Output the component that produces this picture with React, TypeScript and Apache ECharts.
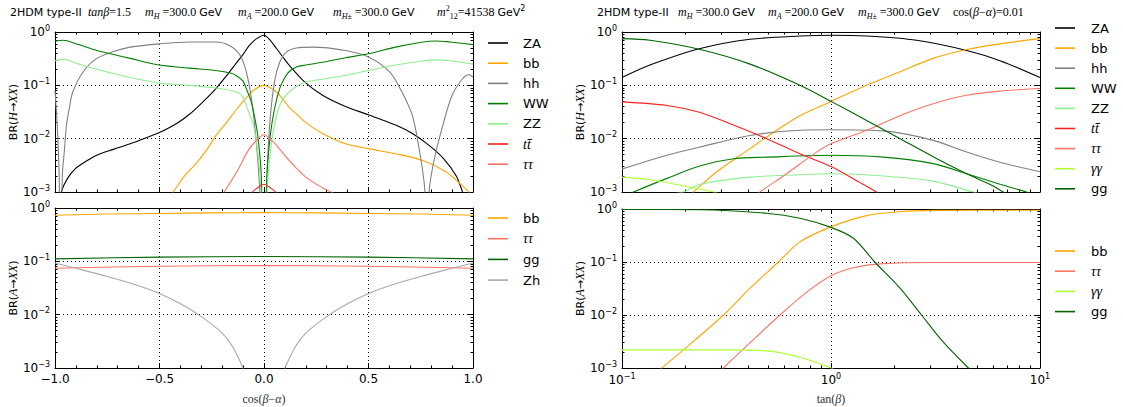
import React, { useEffect, useRef } from "react";
import * as echarts from "echarts";

type P = [number, number];

// ---------- Panel 1: BR(H -> XX) vs cos(beta-alpha) ----------
const h1ZA: P[] = [[-1.0, 0.0003], [-0.97, 0.001], [-0.94, 0.0018], [-0.9, 0.0028], [-0.85, 0.0038], [-0.8, 0.0049], [-0.72, 0.0063], [-0.64, 0.008], [-0.56, 0.0105], [-0.5, 0.013], [-0.42, 0.019], [-0.355, 0.029], [-0.29, 0.05], [-0.23, 0.087], [-0.18, 0.15], [-0.13, 0.27], [-0.1, 0.38], [-0.07, 0.56], [-0.035, 0.75], [0, 0.87], [0.03, 0.7], [0.06, 0.49], [0.09, 0.34], [0.12, 0.24], [0.19, 0.12], [0.28, 0.065], [0.39, 0.04], [0.5, 0.028], [0.63, 0.018], [0.71, 0.0125], [0.79, 0.0075], [0.86, 0.0042], [0.92, 0.002], [0.95, 0.001], [1.0, 0.0003]];
const h1bb: P[] = [[-0.5, 0.0005], [-0.435, 0.001], [-0.38, 0.002], [-0.32, 0.0036], [-0.27, 0.0065], [-0.23, 0.0115], [-0.18, 0.02], [-0.13, 0.036], [-0.09, 0.055], [-0.05, 0.081], [0, 0.1], [0.03, 0.09], [0.06, 0.075], [0.09, 0.055], [0.12, 0.039], [0.16, 0.028], [0.2, 0.02], [0.28, 0.0125], [0.39, 0.008], [0.5, 0.0065], [0.63, 0.0052], [0.76, 0.0039], [0.87, 0.0024], [0.95, 0.0013], [0.98, 0.001], [1.0, 0.0008]];
const h1hh: P[] = [[-1, 0.08], [-0.99, 0.02], [-0.98, 0.002], [-0.975, 0.00001], [-0.965, 0.002], [-0.955, 0.006], [-0.945, 0.018], [-0.93, 0.04], [-0.915, 0.075], [-0.865, 0.18], [-0.8, 0.32], [-0.72, 0.43], [-0.64, 0.52], [-0.5, 0.6], [-0.355, 0.65], [-0.23, 0.65], [-0.165, 0.56], [-0.115, 0.37], [-0.085, 0.18], [-0.06, 0.056], [-0.037, 0.0087], [-0.02, 0.001], [-0.005, 0.00001], [0.011, 0.001], [0.027, 0.018], [0.05, 0.115], [0.075, 0.27], [0.107, 0.42], [0.155, 0.5], [0.234, 0.52], [0.39, 0.45], [0.5, 0.34], [0.6, 0.18], [0.66, 0.075], [0.71, 0.027], [0.745, 0.0056], [0.77, 0.001], [0.78, 0.00001], [0.79, 0.001], [0.815, 0.0042], [0.856, 0.018], [0.9, 0.065], [0.95, 0.133], [0.98, 0.158], [1, 0.143]];
const h1WW: P[] = [[-1, 0.67], [-0.96, 0.7], [-0.9, 0.6], [-0.8, 0.45], [-0.72, 0.38], [-0.64, 0.32], [-0.5, 0.24], [-0.355, 0.21], [-0.23, 0.19], [-0.16, 0.17], [-0.13, 0.15], [-0.1, 0.12], [-0.085, 0.087], [-0.065, 0.055], [-0.05, 0.032], [-0.03, 0.0115], [-0.013, 0.002], [0, 0.00001], [0.014, 0.002], [0.03, 0.0115], [0.05, 0.036], [0.075, 0.087], [0.1, 0.14], [0.12, 0.18], [0.155, 0.22], [0.2, 0.24], [0.28, 0.27], [0.39, 0.33], [0.5, 0.39], [0.63, 0.52], [0.76, 0.65], [0.82, 0.68], [0.89, 0.65], [1, 0.58]];
const h1ZZ: P[] = [[-1, 0.29], [-0.96, 0.31], [-0.9, 0.26], [-0.8, 0.2], [-0.64, 0.14], [-0.5, 0.11], [-0.355, 0.1], [-0.23, 0.089], [-0.13, 0.075], [-0.1, 0.06], [-0.085, 0.042], [-0.065, 0.026], [-0.05, 0.018], [-0.03, 0.0056], [-0.015, 0.001], [0, 0.000005], [0.015, 0.001], [0.03, 0.0056], [0.05, 0.018], [0.075, 0.042], [0.12, 0.075], [0.2, 0.115], [0.28, 0.13], [0.39, 0.154], [0.5, 0.19], [0.63, 0.24], [0.76, 0.29], [0.82, 0.3], [0.89, 0.29], [1, 0.25]];
const h1tt: P[] = [[-0.08, 0.0006], [-0.055, 0.001], [-0.03, 0.0012], [0, 0.0014], [0.03, 0.0012], [0.055, 0.001], [0.08, 0.0006]];
const h1tautau: P[] = [[-0.22, 0.0006], [-0.19, 0.001], [-0.13, 0.0024], [-0.07, 0.0065], [-0.02, 0.0107], [0, 0.012], [0.03, 0.0098], [0.06, 0.0075], [0.12, 0.0039], [0.2, 0.0019], [0.28, 0.0012], [0.32, 0.001], [0.36, 0.0008]];

// ---------- Panel 2: BR(H -> XX) vs tan(beta) ----------
const h2ZA: P[] = [[0.1, 0.14], [0.136, 0.24], [0.237, 0.49], [0.41, 0.73], [0.71, 0.84], [1, 0.87], [1.48, 0.84], [2.57, 0.7], [4.46, 0.45], [6.43, 0.29], [10, 0.14]];
const h2bb: P[] = [[0.2, 0.0007], [0.22, 0.001], [0.284, 0.0024], [0.41, 0.0065], [0.55, 0.0144], [0.71, 0.027], [1, 0.05], [1.48, 0.1], [2.14, 0.18], [3.08, 0.32], [4.46, 0.47], [6.43, 0.6], [10, 0.75]];
const h2hh: P[] = [[0.1, 0.0027], [0.164, 0.0049], [0.237, 0.007], [0.41, 0.0115], [0.71, 0.0144], [1, 0.0147], [1.78, 0.014], [3.08, 0.0093], [4.46, 0.0056], [6.43, 0.0036], [10, 0.0024]];
const h2WW: P[] = [[0.1, 0.0008], [0.1135, 0.001], [0.164, 0.0018], [0.237, 0.0031], [0.341, 0.0042], [0.492, 0.0045], [1, 0.0049], [1.78, 0.0045], [3.08, 0.0034], [4.46, 0.0022], [6.43, 0.0014], [8.61, 0.001], [10, 0.0008]];
const h2ZZ: P[] = [[0.164, 0.0009], [0.197, 0.001], [0.237, 0.0014], [0.41, 0.0019], [0.71, 0.0021], [1, 0.0022], [1.78, 0.002], [3.08, 0.0016], [4.79, 0.001], [6, 0.0008]];
const h2tt: P[] = [[0.1, 0.049], [0.164, 0.042], [0.237, 0.031], [0.341, 0.018], [0.492, 0.01], [0.71, 0.0052], [1, 0.003], [1.376, 0.0015], [1.65, 0.001], [1.8, 0.0008]];
const h2tautau: P[] = [[0.42, 0.0007], [0.458, 0.001], [0.592, 0.002], [0.854, 0.0056], [1, 0.008], [1.48, 0.0144], [2.14, 0.027], [3.08, 0.045], [4.46, 0.065], [6.43, 0.078], [10, 0.087]];
const h2gamgam: P[] = [[0.1, 0.0019], [0.136, 0.0017], [0.197, 0.0013], [0.274, 0.001], [0.32, 0.0008]];
const h2gg: P[] = [[0.1, 0.75], [0.136, 0.7], [0.237, 0.47], [0.41, 0.25], [0.71, 0.1], [1, 0.05], [1.48, 0.022], [2.14, 0.01], [3.08, 0.0046], [4.46, 0.0022], [5.97, 0.0013], [6.67, 0.001], [8, 0.0007]];

// ---------- Panel 3: BR(A -> XX) vs cos(beta-alpha) ----------
const a1bb: P[] = [[-1, 0.73], [-0.75, 0.77], [-0.5, 0.79], [-0.25, 0.81], [0, 0.82], [0.25, 0.81], [0.5, 0.79], [0.75, 0.77], [1, 0.73]];
const a1tautau: P[] = [[-1, 0.074], [-0.5, 0.081], [0, 0.083], [0.5, 0.081], [1, 0.074]];
const a1gg: P[] = [[-1, 0.111], [-0.5, 0.12], [0, 0.123], [0.5, 0.12], [1, 0.111]];
const a1Zh: P[] = [[-1, 0.093], [-0.9, 0.074], [-0.75, 0.052], [-0.6, 0.035], [-0.5, 0.025], [-0.4, 0.016], [-0.3, 0.0092], [-0.2, 0.0045], [-0.15, 0.0025], [-0.1, 0.001], [-0.07, 0.0005], [-0.04, 0.00016], [0, 0.000001], [0.04, 0.00016], [0.07, 0.0005], [0.1, 0.001], [0.15, 0.0025], [0.2, 0.0045], [0.3, 0.0092], [0.4, 0.016], [0.5, 0.025], [0.6, 0.035], [0.75, 0.052], [0.9, 0.074], [1, 0.093]];

// ---------- Panel 4: BR(A -> XX) vs tan(beta) ----------
const a2bb: P[] = [[0.13, 0.0005], [0.155, 0.001], [0.197, 0.0022], [0.306, 0.01], [0.41, 0.032], [0.56, 0.1], [0.71, 0.24], [1, 0.46], [1.48, 0.75], [2.14, 0.89], [3.08, 0.94], [10, 0.95]];
const a2tautau: P[] = [[0.26, 0.0005], [0.306, 0.001], [0.41, 0.003], [0.57, 0.01], [0.765, 0.027], [1, 0.055], [1.28, 0.078], [1.78, 0.093], [3.08, 0.098], [10, 0.098]];
const a2gamgam: P[] = [[0.1, 0.0022], [0.3, 0.0022], [0.492, 0.0021], [0.71, 0.0016], [1, 0.001], [1.1, 0.0008]];
const a2gg: P[] = [[0.1, 0.98], [0.237, 0.97], [0.492, 0.83], [0.71, 0.67], [1, 0.45], [1.28, 0.28], [1.62, 0.1], [2.14, 0.032], [2.71, 0.01], [3.44, 0.0031], [4.54, 0.001], [5.2, 0.0006]];

const COL: Record<string, string> = {
  ZA: "#000000", bb: "#FFA500", hh: "#808080", WW: "#008000", ZZ: "#90EE90",
  tt: "#FF2020", tautau: "#FA7565", gamgam: "#ADFF2F", gg: "#006400", Zh: "#A9A9A9",
};
const LABEL: Record<string, string> = {
  ZA: "{s|ZA}", bb: "{s|bb}", hh: "{s|hh}", WW: "{s|WW}", ZZ: "{s|ZZ}",
  tt: "{m|tt\u0304}", tautau: "{m|\u03c4\u03c4}", gamgam: "{m|\u03b3\u03b3}", gg: "{s|gg}", Zh: "{s|Zh}",
};

type Panel = { grid: number; items: [string, P[]][]; leg: { lx: number; tx: number; y0: number; dy: number } };
const panels: Panel[] = [
  { grid: 0, items: [["ZA", h1ZA], ["bb", h1bb], ["hh", h1hh], ["WW", h1WW], ["ZZ", h1ZZ], ["tt", h1tt], ["tautau", h1tautau]], leg: { lx: 488, tx: 523, y0: 43, dy: 20.2 } },
  { grid: 1, items: [["ZA", h2ZA], ["bb", h2bb], ["hh", h2hh], ["WW", h2WW], ["ZZ", h2ZZ], ["tt", h2tt], ["tautau", h2tautau], ["gamgam", h2gamgam], ["gg", h2gg]], leg: { lx: 1055, tx: 1091, y0: 28, dy: 20.1 } },
  { grid: 2, items: [["bb", a1bb], ["tautau", a1tautau], ["gg", a1gg], ["Zh", a1Zh]], leg: { lx: 488, tx: 523, y0: 218, dy: 20.7 } },
  { grid: 3, items: [["bb", a2bb], ["tautau", a2tautau], ["gamgam", a2gamgam], ["gg", a2gg]], leg: { lx: 1055, tx: 1091, y0: 251, dy: 20.2 } },
];

const SANS = "DejaVu Sans";
const SERIF = "Liberation Serif";

const richG = {
  s: { fontFamily: SANS, fontSize: 11, fill: "#000", lineHeight: 16 },
  r: { fontFamily: SERIF, fontSize: 12, fill: "#000", lineHeight: 16 },
  i: { fontFamily: SERIF, fontSize: 12, fontStyle: "italic", fill: "#000", lineHeight: 16 },
  sb: { fontFamily: SERIF, fontSize: 8, fontStyle: "italic", fill: "#000", lineHeight: 9, verticalAlign: "bottom" },
  sbr: { fontFamily: SERIF, fontSize: 8, fill: "#000", lineHeight: 9, verticalAlign: "bottom" },
  sp: { fontFamily: SERIF, fontSize: 8, fill: "#000", lineHeight: 9, verticalAlign: "top" },
  ss: { fontFamily: SANS, fontSize: 8, fill: "#000", lineHeight: 9, verticalAlign: "top" },
};
const richLeg = {
  s: { fontFamily: SANS, fontSize: 13, fill: "#000" },
  m: { fontFamily: SERIF, fontSize: 14, fontStyle: "italic", fill: "#000" },
};

const titleChunks: [number, string][] = [
  [10, "{s|2HDM type-II}"],
  [88, "{i|tan\u03b2}{r|=1.5}"],
  [145, "{i|m}{sb|H}{r| =300.0 }{s|GeV}"],
  [238, "{i|m}{sb|A}{r| =200.0 }{s|GeV}"],
  [333, "{i|m}{sb|H\u00b1}{r| =300.0 }{s|GeV}"],
  [437, "{i|m}{sp|2}{sbr|12}{r|=41538 }{s|GeV}{ss|2}"],
  [597, "{s|2HDM type-II}"],
  [678, "{i|m}{sb|H}{r| =300.0 }{s|GeV}"],
  [768, "{i|m}{sb|A}{r| =200.0 }{s|GeV}"],
  [858, "{i|m}{sb|H\u00b1}{r| =300.0 }{s|GeV}"],
  [953, "{r|cos(}{i|\u03b2}{r|\u2212}{i|\u03b1}{r|)=0.01}"],
];

const grids = [
  { left: 55, top: 32, width: 418, height: 160 },
  { left: 622, top: 32, width: 418, height: 160 },
  { left: 55, top: 208, width: 418, height: 160 },
  { left: 622, top: 209, width: 418, height: 159 },
];

const expLabel = (v: number) => {
  const e = Math.round(Math.log10(v));
  return `{b|10}{e|${e < 0 ? "\u2212" : ""}${Math.abs(e)}}`;
};
const expRich = {
  b: { fontFamily: SANS, fontSize: 12, color: "#000", lineHeight: 16 },
  e: { fontFamily: SANS, fontSize: 8, color: "#000", lineHeight: 9, verticalAlign: "top" },
};
const linLabel = (v: number) => (v < 0 ? "\u2212" : "") + Math.abs(v).toFixed(1);

function buildOption() {
  const xAxis: any[] = [];
  const yAxis: any[] = [];
  const series: any[] = [];
  const graphic: any[] = [];
  const tickStyle = { show: true, inside: true, length: 5, lineStyle: { color: "#000", width: 1 } };
  const minorStyle = { show: true, length: 2.5, lineStyle: { color: "#000", width: 1 } };
  const axisLine = { show: true, onZero: false, lineStyle: { color: "#000", width: 1 } };
  const split = { show: true, lineStyle: { color: "#000", type: [1, 3], width: 1 } };

  for (let g = 0; g < 4; g++) {
    const isLog = g % 2 === 1;
    const bottom = g >= 2;
    const xBase: any = isLog
      ? { type: "log", logBase: 10, min: 0.1, max: 10 }
      : { type: "value", min: -1, max: 1, interval: 0.5 };
    xAxis.push({
      ...xBase, gridIndex: g, position: "bottom", axisLine, axisTick: tickStyle,
      minorTick: { ...minorStyle, splitNumber: isLog ? 9 : 5 },
      splitLine: split,
      axisLabel: bottom
        ? isLog
          ? { show: true, formatter: expLabel, rich: expRich, margin: 4 }
          : { show: true, formatter: linLabel, fontFamily: SANS, fontSize: 12, color: "#000", margin: 5 }
        : { show: false },
      name: bottom ? (isLog ? "{r|tan(}{i|\u03b2}{r|)}" : "{r|cos(}{i|\u03b2}{r|\u2212}{i|\u03b1}{r|)}") : "",
      nameLocation: "middle", nameGap: 25,
      nameTextStyle: { rich: { r: { fontFamily: SERIF, fontSize: 12, color: "#333" }, i: { fontFamily: SERIF, fontSize: 12, fontStyle: "italic", color: "#333" } } },
    });
    xAxis.push({
      ...xBase, gridIndex: g, position: "top", axisLine, axisTick: tickStyle,
      minorTick: { ...minorStyle, splitNumber: isLog ? 9 : 5 },
      splitLine: { show: false }, axisLabel: { show: false },
    });
    const yName = bottom ? "{a|BR(}{i|A}{a|\u2192}{i|XX}{a|)}" : "{a|BR(}{i|H}{a|\u2192}{i|XX}{a|)}";
    yAxis.push({
      type: "log", logBase: 10, min: 0.001, max: 1, gridIndex: g, position: "left",
      axisLine, axisTick: tickStyle, minorTick: { ...minorStyle, splitNumber: 9 }, splitLine: split,
      axisLabel: { show: true, formatter: expLabel, rich: expRich, margin: 5 },
      name: yName, nameLocation: "middle", nameRotate: 90, nameGap: 34,
      nameTextStyle: { rich: { a: { fontFamily: SANS, fontSize: 11, color: "#000" }, i: { fontFamily: SERIF, fontSize: 12, fontStyle: "italic", color: "#000" } } },
    });
    yAxis.push({
      type: "log", logBase: 10, min: 0.001, max: 1, gridIndex: g, position: "right",
      axisLine, axisTick: tickStyle, minorTick: { ...minorStyle, splitNumber: 9 },
      splitLine: { show: false }, axisLabel: { show: false },
    });
  }

  panels.forEach((p) => {
    p.items.forEach(([key, data], k) => {
      series.push({
        type: "line", name: `${p.grid}:${key}`, data, xAxisIndex: p.grid * 2, yAxisIndex: p.grid * 2,
        showSymbol: false, symbol: "none", smooth: 0.3, clip: true,
        lineStyle: { color: COL[key], width: 1.1 }, itemStyle: { color: COL[key] },
      });
      const y = p.leg.y0 + k * p.leg.dy;
      graphic.push({ type: "line", shape: { x1: p.leg.lx, y1: y, x2: p.leg.lx + 20, y2: y }, style: { stroke: COL[key], lineWidth: 1.6 } });
      graphic.push({ type: "text", x: p.leg.tx, y, style: { text: LABEL[key], rich: richLeg, verticalAlign: "middle", align: "left" } });
    });
  });

  titleChunks.forEach(([x, t]) => {
    graphic.push({ type: "text", x, y: 12, style: { text: t, rich: richG, verticalAlign: "middle", align: "left" } });
  });

  return {
    animation: false,
    backgroundColor: "#fff",
    grid: grids,
    xAxis, yAxis, series, graphic,
  };
}

export default function App() {
  const ref = useRef<HTMLDivElement>(null);
  useEffect(() => {
    const chart = echarts.init(ref.current!, undefined, { renderer: "svg" });
    chart.setOption(buildOption() as any);
    return () => chart.dispose();
  }, []);
  return <div ref={ref} style={{ position: "absolute", left: 0, top: 0, width: 1123, height: 407 }} />;
}
